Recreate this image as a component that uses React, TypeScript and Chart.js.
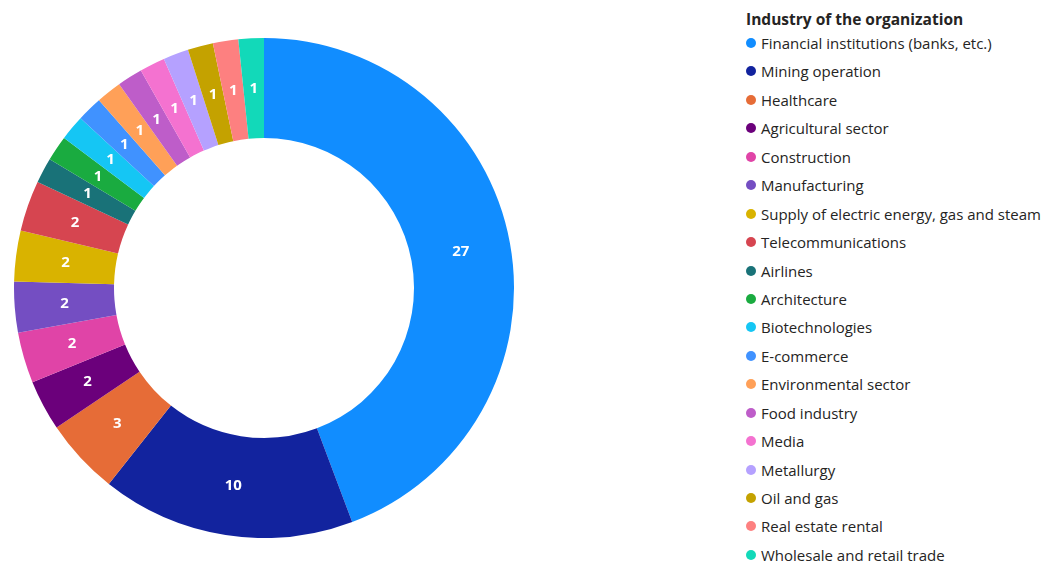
import React, { useEffect, useRef } from "react";
import { Chart, registerables } from "chart.js";

Chart.register(...registerables);

const legendTitle = "Industry of the organization";
const categories = [
  "Financial institutions (banks, etc.)",
  "Mining operation",
  "Healthcare",
  "Agricultural sector",
  "Construction",
  "Manufacturing",
  "Supply of electric energy, gas and steam",
  "Telecommunications",
  "Airlines",
  "Architecture",
  "Biotechnologies",
  "E-commerce",
  "Environmental sector",
  "Food industry",
  "Media",
  "Metallurgy",
  "Oil and gas",
  "Real estate rental",
  "Wholesale and retail trade",
];
const counts = [27, 10, 3, 2, 2, 2, 2, 2, 1, 1, 1, 1, 1, 1, 1, 1, 1, 1, 1];
const colors = [
  "#118DFF",
  "#12239E",
  "#E66C37",
  "#6B007B",
  "#E044A7",
  "#744EC2",
  "#D9B300",
  "#D64550",
  "#197278",
  "#1AAB40",
  "#15C6F4",
  "#4092FF",
  "#FFA058",
  "#BE5DC9",
  "#F472D0",
  "#B5A1FF",
  "#C4A200",
  "#FD8080",
  "#12D9B9",
];

const FONT = "'Segoe UI', 'Open Sans', 'Noto Sans', sans-serif";

const labelPlugin = {
  id: "sliceLabels",
  afterDatasetsDraw(chart: any) {
    const ctx = chart.ctx;
    const meta = chart.getDatasetMeta(0);
    const data = chart.data.datasets[0].data as number[];
    ctx.save();
    ctx.fillStyle = "#ffffff";
    ctx.textAlign = "center";
    ctx.textBaseline = "middle";
    ctx.font = `bold 15px ${FONT}`;
    meta.data.forEach((arc: any, i: number) => {
      const p = arc.tooltipPosition();
      ctx.fillText(String(data[i]), p.x, p.y);
    });
    ctx.restore();
  },
};

export default function App() {
  const ref = useRef<HTMLCanvasElement>(null);
  useEffect(() => {
    if (!ref.current) return;
    const chart = new Chart(ref.current, {
      type: "doughnut",
      data: {
        labels: categories,
        datasets: [
          {
            data: counts,
            backgroundColor: colors,
            borderWidth: 0,
          },
        ],
      },
      options: {
        animation: false,
        responsive: false,
        maintainAspectRatio: false,
        cutout: "60%",
        plugins: {
          legend: { display: false },
          tooltip: { enabled: false },
        },
      },
      plugins: [labelPlugin],
    });
    return () => chart.destroy();
  }, []);

  return (
    <div style={{ position: "relative", width: 1045, height: 555, fontFamily: FONT }}>
      <canvas
        ref={ref}
        width={500}
        height={500}
        style={{ position: "absolute", left: 6, top: 30, width: 500, height: 500 }}
      />
      <div style={{ position: "absolute", left: 738, top: 0 }}>
        <div
          style={{
            fontWeight: 700,
            fontSize: 15.5,
            color: "#252423",
            height: 22,
            lineHeight: "22px",
          }}
        >
          {legendTitle}
        </div>
        {categories.map((c, i) => (
          <div
            key={c}
            style={{
              position: "absolute",
              top: 25 + i * 28.44,
              left: 0,
              display: "flex",
              alignItems: "center",
              height: 20,
              whiteSpace: "nowrap",
            }}
          >
            <span
              style={{
                display: "inline-block",
                width: 10,
                height: 10,
                borderRadius: 5,
                background: colors[i],
                marginRight: 5,
              }}
            />
            <span style={{ fontSize: 15, color: "#252423", lineHeight: "20px" }}>{c}</span>
          </div>
        ))}
      </div>
    </div>
  );
}
